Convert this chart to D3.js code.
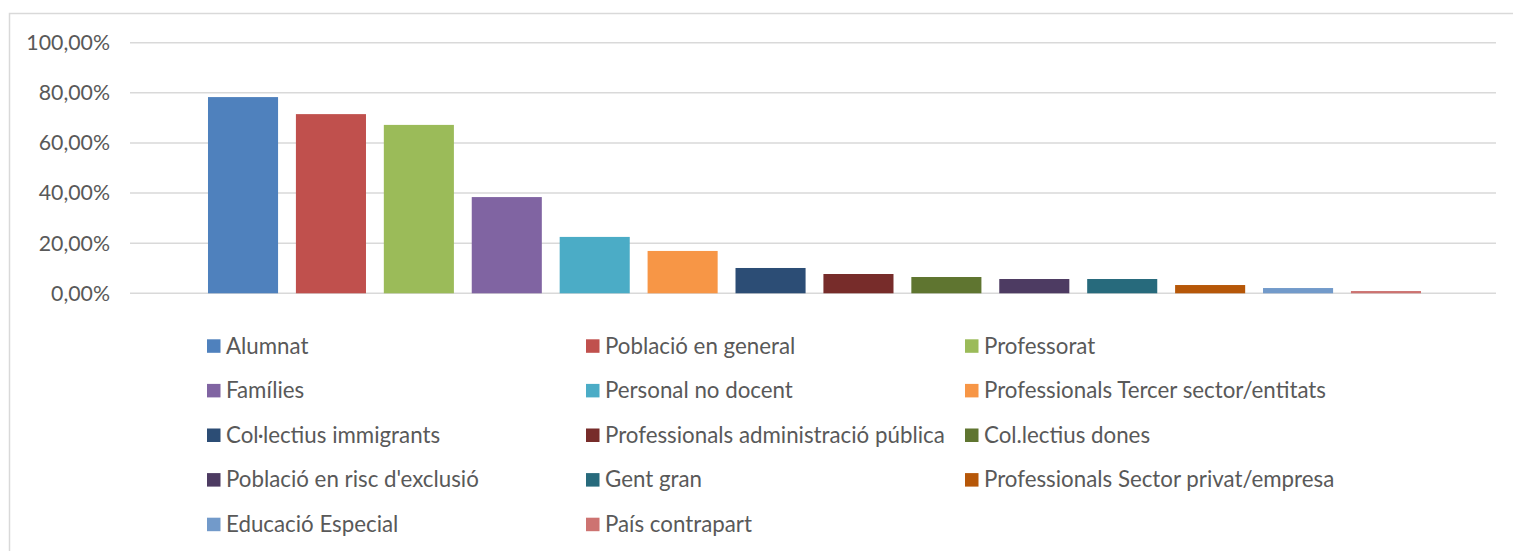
<!DOCTYPE html>
<html lang="ca">
<head>
    <meta charset="UTF-8">
    <title>Col·lectius destinataris</title>
    <script src="https://d3js.org/d3.v7.min.js"></script>
    <style>
        body { margin: 0; background: #fff; }
        .axis text, .legend text {
            font-family: Lato, "Liberation Sans", Arial, sans-serif;
            fill: #595959;
        }
        .axis text { font-size: 21.3px; }
        .legend text { font-size: 22.3px; }
        .grid line { stroke: #d9d9d9; stroke-width: 1.4px; }
    </style>
</head>
<body>
    <script>
        // data
        const series = [
            "Alumnat", "Població en general", "Professorat",
            "Famílies", "Personal no docent", "Professionals Tercer sector/entitats",
            "Col·lectius immigrants", "Professionals administració pública", "Col.lectius dones",
            "Població en risc d'exclusió", "Gent gran", "Professionals Sector privat/empresa",
            "Educació Especial", "País contrapart"
        ];
        const values = [0.783, 0.715, 0.672, 0.384, 0.225, 0.169, 0.101, 0.077, 0.065, 0.057, 0.057, 0.033, 0.021, 0.009];
        const colors = [
            "#4F81BD", "#C0504D", "#9BBB59", "#8064A2", "#4BACC6", "#F79646", "#2C4D75",
            "#772C2A", "#5F7530", "#4D3B62", "#276A7C", "#B65708", "#729ACA", "#CD7371"
        ];
        const yTicks = [0, 0.2, 0.4, 0.6, 0.8, 1];

        const width = 1513;
        const height = 551;

        const svg = d3.select("body").append("svg")
            .attr("width", width)
            .attr("height", height);

        // chart frame (right and bottom edges run off the picture)
        svg.append("rect")
            .attr("x", 9.5).attr("y", 13.5)
            .attr("width", 1520).attr("height", 560)
            .attr("fill", "none")
            .attr("stroke", "#d9d9d9")
            .attr("stroke-width", 1.5);

        const plotLeft = 130, plotRight = 1496;

        // single category, 14 series side by side
        const x = d3.scaleBand()
            .domain(series)
            .range([plotLeft + 1.5, plotRight + 1.5])
            .paddingInner(0.203)
            .paddingOuter(0.87);

        const y = d3.scaleLinear()
            .domain([0, 1])
            .range([293.3, 42.7]);

        const ca = d3.formatLocale({ decimal: ",", thousands: ".", grouping: [3], currency: ["", " €"] });
        const fmt = ca.format(".2%");

        // gridlines
        svg.append("g")
            .attr("class", "grid")
            .selectAll("line")
            .data(yTicks)
            .join("line")
            .attr("x1", plotLeft).attr("x2", plotRight)
            .attr("y1", d => y(d)).attr("y2", d => y(d));

        // y axis labels
        const yAxis = svg.append("g")
            .attr("class", "axis")
            .attr("transform", `translate(${plotLeft},0)`)
            .call(d3.axisLeft(y).tickValues(yTicks).tickFormat(fmt).tickSize(0).tickPadding(20));
        yAxis.select(".domain").remove();

        // bars
        svg.append("g")
            .selectAll("rect")
            .data(series)
            .join("rect")
            .attr("x", d => x(d))
            .attr("width", x.bandwidth())
            .attr("y", (d, i) => y(values[i]))
            .attr("height", (d, i) => y(0) - y(values[i]))
            .attr("fill", (d, i) => colors[i]);

        // legend, 3 columns
        const colX = [207, 586, 965];
        const rowY = [346, 390.6, 435.2, 479.8, 524.4];
        const legend = svg.append("g")
            .attr("class", "legend")
            .selectAll("g")
            .data(series)
            .join("g")
            .attr("transform", (d, i) => `translate(${colX[i % 3]},${rowY[Math.floor(i / 3)]})`);

        legend.append("rect")
            .attr("x", 0).attr("y", -6.7)
            .attr("width", 13.5).attr("height", 13.5)
            .attr("fill", (d, i) => colors[i]);

        legend.append("text")
            .attr("x", 19)
            .attr("y", 7.5)
            .text(d => d);
    </script>
</body>
</html>
